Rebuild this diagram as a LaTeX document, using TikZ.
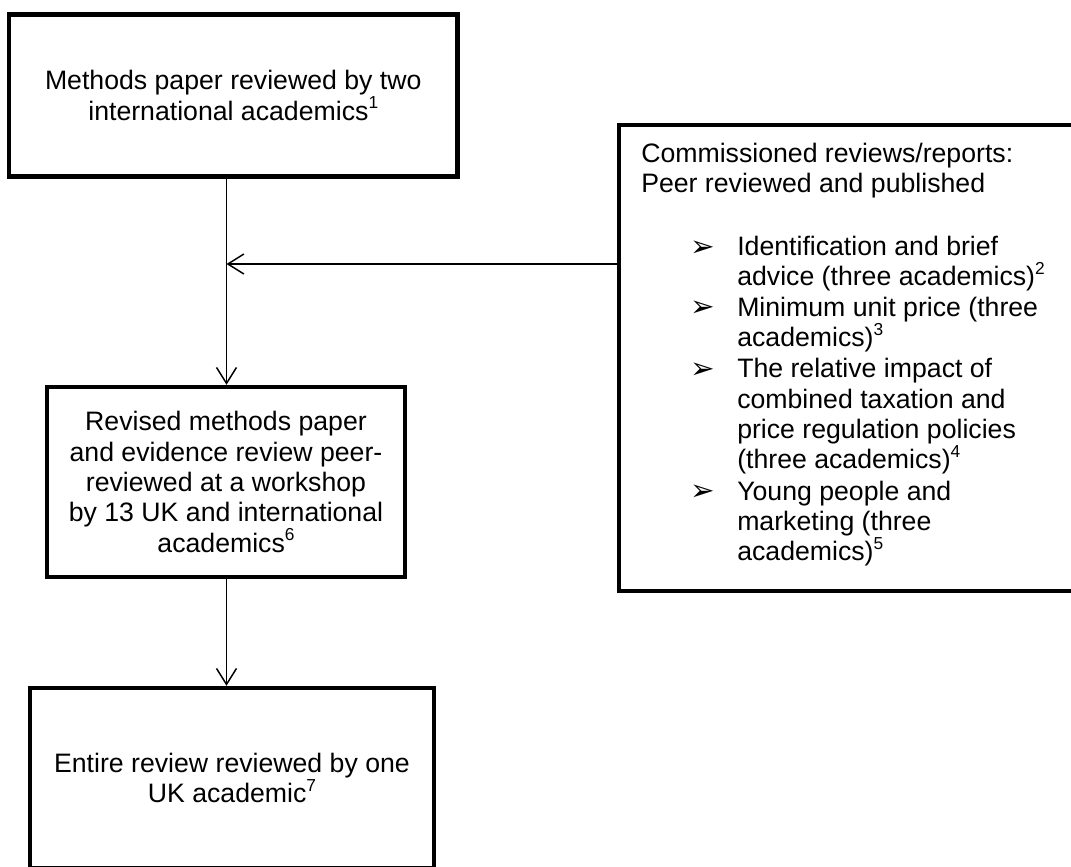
\documentclass[tikz,border=0pt]{standalone}
\usepackage{fontspec}
\setmainfont{Liberation Sans}
\newfontfamily\dejavu{DejaVu Sans}
\usetikzlibrary{arrows.meta}
\newcommand\sps[2][8.5pt]{\raisebox{#1}[0pt][0pt]{\fontsize{13}{13}\selectfont #2}}
\newcommand\bul{\makebox[72pt][l]{\hspace*{37pt}\raisebox{-0.5pt}{\dejavu\fontsize{22}{22}\selectfont ➢}}}
\newcommand\ind{\hspace*{72pt}}
\begin{document}
\begin{tikzpicture}[x=0.75pt,y=-0.75pt,
  box/.style={draw, line width=3.3pt, inner sep=0pt, align=center, font=\fontsize{20}{22.75}\selectfont},
  arr/.style={line width=1.1pt, -{Straight Barb[length=12pt,width=15pt,line width=1.1pt]}},
  txt/.style={inner sep=0pt, align=left, font=\fontsize{20}{22.75}\selectfont}]
\useasboundingbox (0,0) rectangle (1071,867);
\fill[white] (0,0) rectangle (1071,867);
% boxes
\node[box, minimum width=336.4pt, minimum height=121.5pt] (b1) at (233.25,95.5)
  {Methods paper reviewed by two\\international academics\sps{1}};
\node[box, minimum width=345.75pt, minimum height=349.5pt] (b2) at (849.5,358) {};
\node[txt, anchor=north west] (t2) at (641,140.8)
  {\strut Commissioned reviews/reports:\\
   Peer reviewed and published\\[24.5pt]
   \bul Identification and brief\\
   \ind advice (three academics)\sps{2}\\
   \bul Minimum unit price (three\\
   \ind academics)\sps{3}\\[0.75pt]
   \bul The relative impact of\\
   \ind combined taxation and\\
   \ind price regulation policies\\
   \ind (three academics)\sps{4}\\[0.75pt]
   \bul Young people and\\
   \ind marketing (three\\
   \ind academics)\sps{5}};
\node[box, minimum width=268.9pt, minimum height=142.5pt] (b3) at (226,482)
  {Revised methods paper\\and evidence review peer-\\reviewed at a workshop\\by 13 UK and international\\academics\sps{6}};
\node[box, minimum width=303pt, minimum height=135pt] (b4) at (232,778)
  {Entire review reviewed by one\\UK academic\sps{7}};
% connectors
\coordinate (v) at (226.5,0);
\coordinate (j) at (226.5,264);
\draw[arr] (b1.south -| v) -- (b3.north -| v);
\draw[arr] (b2.west |- j) -- (j);
\draw[arr] (b3.south -| v) -- (b4.north -| v);
\end{tikzpicture}
\end{document}
